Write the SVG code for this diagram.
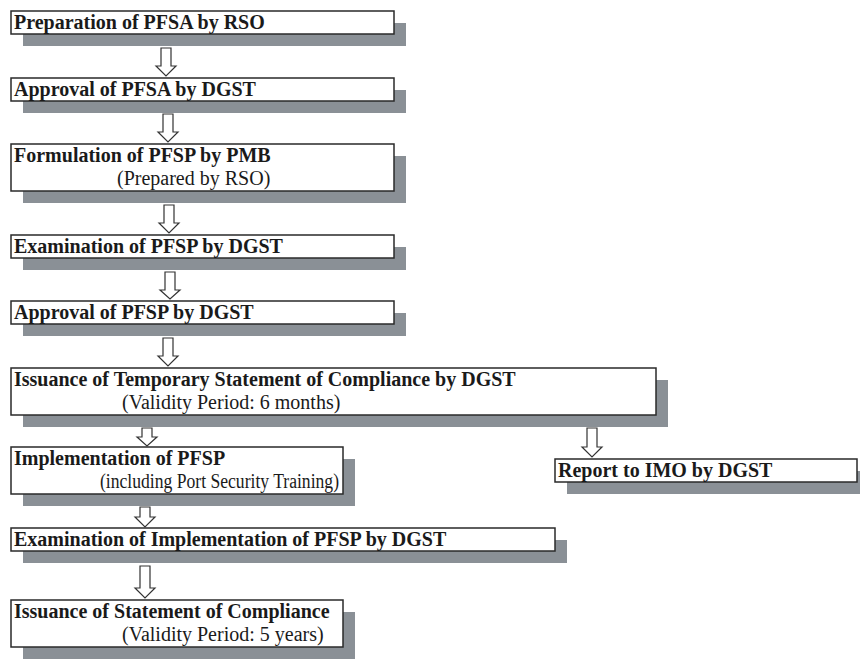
<svg xmlns="http://www.w3.org/2000/svg" width="860" height="670" viewBox="0 0 860 670">
<defs>
<style>
.sh{fill:#8a9096;}
.bx{fill:#fff;stroke:#2a2a2a;stroke-width:1.5;}
.t{font-family:"Liberation Serif","Times New Roman",serif;font-size:20px;font-weight:bold;fill:#1a1a1a;}
.s{font-family:"Liberation Serif","Times New Roman",serif;font-size:20px;fill:#1a1a1a;}
.ar{fill:#fff;stroke:#333;stroke-width:1.2;stroke-linejoin:miter;}
</style>
</defs>
<rect width="860" height="670" fill="#fff"/>
<g id="connectors">
<path class="ar" d="M161,48 H171 V66 H176 L166,76 L156,66 H161 Z"/>
<path class="ar" d="M163,114 H173 V132 H178 L168,142 L158,132 H163 Z"/>
<path class="ar" d="M164,205 H174 V223 H179 L169,233 L159,223 H164 Z"/>
<path class="ar" d="M165,272 H175 V290 H180 L170,299 L160,290 H165 Z"/>
<path class="ar" d="M163,338 H173 V356 H178 L168,366 L158,356 H163 Z"/>
<path class="ar" d="M142,428 H152 V437 H157 L147,446 L137,437 H142 Z"/>
<path class="ar" d="M587,428 H597 V447 H602 L592,457 L582,447 H587 Z"/>
<path class="ar" d="M140,507 H150 V517 H155 L145,527 L135,517 H140 Z"/>
<path class="ar" d="M140,566 H150 V588 H155 L145,598 L135,588 H140 Z"/>
</g>
<g id="n1">
<rect class="sh" x="23" y="23" width="383" height="23"/>
<rect class="bx" x="11" y="11" width="383" height="23"/>
<text class="t" x="14" y="29">Preparation of PFSA by RSO</text>
</g>
<g id="n2">
<rect class="sh" x="23" y="90" width="383" height="23"/>
<rect class="bx" x="11" y="78" width="383" height="23"/>
<text class="t" x="14" y="96">Approval of PFSA by DGST</text>
</g>
<g id="n3">
<rect class="sh" x="23" y="156" width="383" height="47"/>
<rect class="bx" x="11" y="144" width="383" height="47"/>
<text class="t" x="14" y="162">Formulation of PFSP by PMB</text>
<text class="s" x="117" y="185">(Prepared by RSO)</text>
</g>
<g id="n4">
<rect class="sh" x="23" y="247" width="383" height="23"/>
<rect class="bx" x="11" y="235" width="383" height="23"/>
<text class="t" x="14" y="253">Examination of PFSP by DGST</text>
</g>
<g id="n5">
<rect class="sh" x="23" y="313" width="383" height="23"/>
<rect class="bx" x="11" y="301" width="383" height="23"/>
<text class="t" x="14" y="319">Approval of PFSP by DGST</text>
</g>
<g id="n6">
<rect class="sh" x="23" y="380" width="645" height="47"/>
<rect class="bx" x="11" y="368" width="645" height="47"/>
<text class="t" x="14" y="386">Issuance of Temporary Statement of Compliance by DGST</text>
<text class="s" x="122" y="409">(Validity Period: 6 months)</text>
</g>
<g id="n7">
<rect class="sh" x="23" y="459" width="332" height="47"/>
<rect class="bx" x="11" y="447" width="332" height="47"/>
<text class="t" x="14" y="465">Implementation of PFSP</text>
<text class="s" x="100" y="488" textLength="239" lengthAdjust="spacingAndGlyphs">(including Port Security Training)</text>
</g>
<g id="n8">
<rect class="sh" x="567" y="471" width="302" height="23"/>
<rect class="bx" x="555" y="459" width="302" height="23"/>
<text class="t" x="558" y="477">Report to IMO by DGST</text>
</g>
<g id="n9">
<rect class="sh" x="23" y="540" width="544" height="23"/>
<rect class="bx" x="11" y="528" width="544" height="23"/>
<text class="t" x="14" y="546">Examination of Implementation of PFSP by DGST</text>
</g>
<g id="n10">
<rect class="sh" x="23" y="612" width="332" height="47"/>
<rect class="bx" x="11" y="600" width="332" height="47"/>
<text class="t" x="14" y="618">Issuance of Statement of Compliance</text>
<text class="s" x="122" y="641">(Validity Period: 5 years)</text>
</g>
</svg>
